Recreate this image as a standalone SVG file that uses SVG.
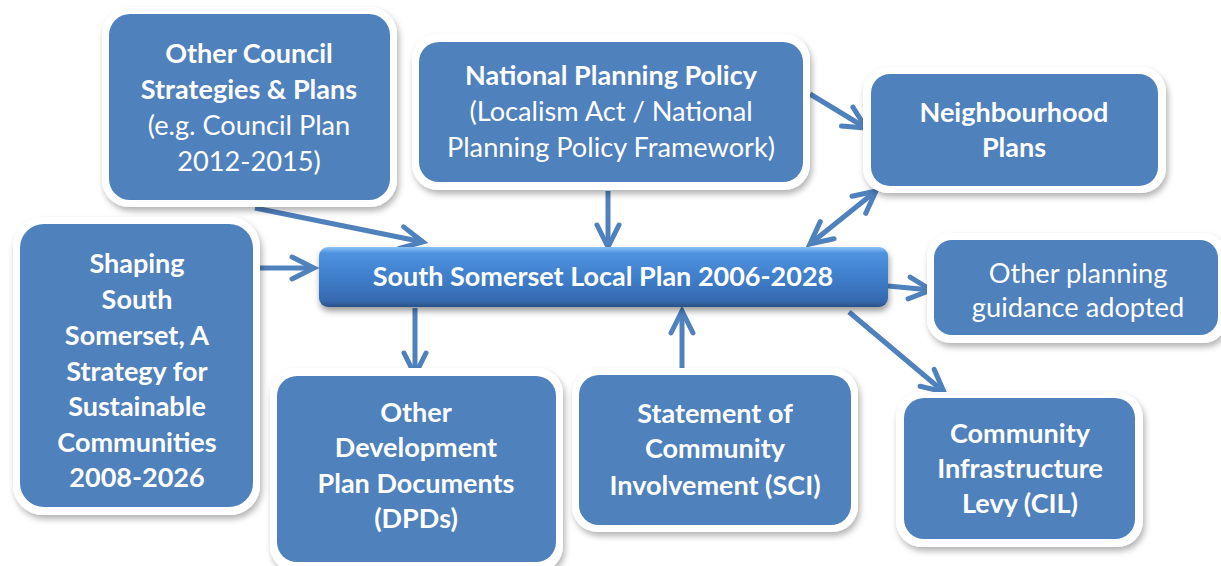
<svg xmlns="http://www.w3.org/2000/svg" width="1221" height="566" viewBox="0 0 1221 566">
<defs>
<style>
.frame{fill:#FFFFFF;filter:url(#sh)}
.box{fill:#4F81BD}
.t{font-family:Lato,"Liberation Sans",sans-serif;font-size:27.2px;fill:#FFFFFF;text-anchor:middle}
.b{font-weight:bold;font-size:27px}
.c{fill:none;stroke:#4F81BD;stroke-width:5}
</style>
<filter id="sh" x="-10%" y="-10%" width="125%" height="130%">
<feDropShadow dx="2" dy="4" stdDeviation="3" flood-color="#000000" flood-opacity="0.3"/>
</filter>
<filter id="sh2" x="-5%" y="-20%" width="110%" height="160%">
<feDropShadow dx="1" dy="4" stdDeviation="3" flood-color="#000000" flood-opacity="0.4"/>
</filter>
<linearGradient id="cg" x1="0" y1="0" x2="0" y2="1">
<stop offset="0" stop-color="#8CC4F7"/>
<stop offset="0.1" stop-color="#4F92DE"/>
<stop offset="0.5" stop-color="#3F7FCC"/>
<stop offset="0.9" stop-color="#3668AE"/>
<stop offset="1" stop-color="#2B5186"/>
</linearGradient>
<marker id="ah" viewBox="0 0 32 32" refX="27" refY="16" markerWidth="32" markerHeight="32" markerUnits="userSpaceOnUse" orient="auto-start-reverse">
<path d="M5,5 L27,16 L5,27" fill="none" stroke="#4F81BD" stroke-width="5" stroke-linejoin="miter" stroke-linecap="round"/>
</marker>
</defs>
<rect width="1221" height="566" fill="#FFFFFF"/>

<g id="connectors">
<path class="c" d="M255,208 L423,242" marker-end="url(#ah)"/>
<path class="c" d="M608,191 L608,247" marker-end="url(#ah)"/>
<path class="c" d="M810,244 L876,191" marker-start="url(#ah)" marker-end="url(#ah)"/>
<path class="c" d="M810,94 L866,128" marker-end="url(#ah)"/>
<path class="c" d="M258,268 L314,268" marker-end="url(#ah)"/>
<path class="c" d="M888,286 L931,290" marker-end="url(#ah)"/>
<path class="c" d="M415,308 L415,375" marker-end="url(#ah)"/>
<path class="c" d="M682,371 L682,311" marker-end="url(#ah)"/>
<path class="c" d="M849,312 L944,392" marker-end="url(#ah)"/>
</g>

<g id="node-council">
<rect class="frame" x="102" y="7" width="295" height="200" rx="27"/>
<rect class="box" x="109" y="14" width="281" height="186" rx="21"/>
<text class="t b" x="249" y="63">Other Council</text>
<text class="t b" x="249" y="99">Strategies &amp; Plans</text>
<text class="t" x="249" y="135">(e.g. Council Plan</text>
<text class="t" x="249" y="171">2012-2015)</text>
</g>

<g id="node-national">
<rect class="frame" x="412" y="34" width="398" height="156" rx="26"/>
<rect class="box" x="419" y="42" width="384" height="140" rx="20"/>
<text class="t b" x="611" y="85">National Planning Policy</text>
<text class="t" x="611" y="121">(Localism Act / National</text>
<text class="t" x="611" y="157">Planning Policy Framework)</text>
</g>

<g id="node-neighbourhood">
<rect class="frame" x="863" y="67" width="303" height="126" rx="25"/>
<rect class="box" x="871" y="74" width="287" height="112" rx="19"/>
<text class="t b" x="1014" y="122">Neighbourhood</text>
<text class="t b" x="1014" y="157">Plans</text>
</g>

<g id="node-guidance">
<rect class="frame" x="927" y="233" width="300" height="110" rx="24"/>
<rect class="box" x="934" y="240" width="284" height="95" rx="18"/>
<text class="t" x="1078" y="283">Other planning</text>
<text class="t" x="1078" y="317">guidance adopted</text>
</g>

<g id="node-shaping">
<rect class="frame" x="13" y="217" width="247" height="298" rx="30"/>
<rect class="box" x="20" y="224" width="233" height="283" rx="24"/>
<text class="t b" x="137" y="273">Shaping</text>
<text class="t b" x="137" y="309">South</text>
<text class="t b" x="137" y="345">Somerset, A</text>
<text class="t b" x="137" y="381">Strategy for</text>
<text class="t b" x="137" y="416">Sustainable</text>
<text class="t b" x="137" y="452">Communities</text>
<text class="t b" x="137" y="487">2008-2026</text>
</g>

<g id="node-dpds">
<rect class="frame" x="270" y="368" width="293" height="204" rx="26"/>
<rect class="box" x="277" y="376" width="279" height="186" rx="20"/>
<text class="t b" x="416" y="422">Other</text>
<text class="t b" x="416" y="457">Development</text>
<text class="t b" x="416" y="493">Plan Documents</text>
<text class="t b" x="416" y="528">(DPDs)</text>
</g>

<g id="node-sci">
<rect class="frame" x="572" y="368" width="286" height="164" rx="26"/>
<rect class="box" x="579" y="375" width="272" height="150" rx="20"/>
<text class="t b" x="715" y="423">Statement of</text>
<text class="t b" x="715" y="458">Community</text>
<text class="t b" x="715" y="495">Involvement (SCI)</text>
</g>

<g id="node-cil">
<rect class="frame" x="896" y="392" width="247" height="155" rx="26"/>
<rect class="box" x="904" y="398" width="231" height="141" rx="20"/>
<text class="t b" x="1020" y="443">Community</text>
<text class="t b" x="1020" y="478">Infrastructure</text>
<text class="t b" x="1020" y="513">Levy (CIL)</text>
</g>

<g id="node-localplan">
<rect x="319" y="247" width="569" height="60" rx="9" fill="url(#cg)" filter="url(#sh2)"/>
<text class="t b" x="603" y="286">South Somerset Local Plan 2006-2028</text>
</g>
</svg>
